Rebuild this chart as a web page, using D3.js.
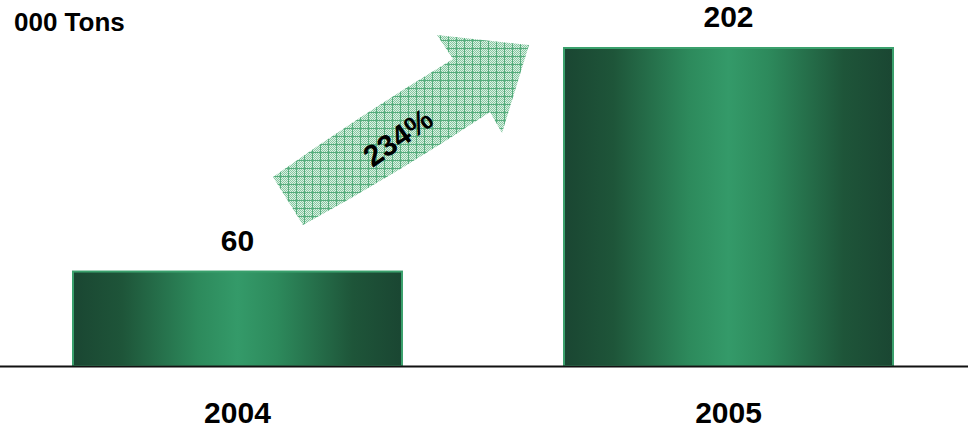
<!DOCTYPE html>
<html><head><meta charset="utf-8">
<script src="https://cdn.jsdelivr.net/npm/d3@7"></script>
<style>html,body{margin:0;padding:0;background:#fff;}svg{display:block;}</style>
</head><body>
<script>
const years = ["2004", "2005"];
const values = [60, 202];
const unitLabel = "000 Tons";
const growthLabel = "234%";

const W = 968, H = 430;
const svg = d3.select("body").append("svg").attr("width", W).attr("height", H)
  .style("font-family", "Arial, 'Liberation Sans', sans-serif");

const x = d3.scaleBand().domain(years).range([73, 893]).paddingInner(0.33).paddingOuter(0);
const y = d3.scaleLinear().domain([0, 202]).range([366, 48]);

const defs = svg.append("defs");
const grad = defs.append("linearGradient").attr("id", "barGrad").attr("x1", "0").attr("x2", "1").attr("y1", "0").attr("y2", "0");
[[0, "#1a4632"], [0.15, "#1e5539"], [0.38, "#2d8a5c"], [0.5, "#349a69"], [0.62, "#2d8a5c"], [0.85, "#1e5539"], [1, "#1a4632"]]
  .forEach(([o, c]) => grad.append("stop").attr("offset", o).attr("stop-color", c));

const pat = defs.append("pattern").attr("id", "hatch").attr("patternUnits", "userSpaceOnUse")
  .attr("width", 8).attr("height", 8);
pat.append("rect").attr("width", 8).attr("height", 8).attr("fill", "#dcf0e3");
for (let i = 0; i < 8; i++) for (let j = 0; j < 8; j++) {
  if ((i + j) % 2 === 0) pat.append("rect").attr("x", i).attr("y", j).attr("width", 1).attr("height", 1).attr("fill", "#85c7a1");
}
pat.append("rect").attr("x", 0).attr("y", 0).attr("width", 8).attr("height", 1).attr("fill", "#55ac7c");
pat.append("rect").attr("x", 0).attr("y", 0).attr("width", 1).attr("height", 8).attr("fill", "#55ac7c");

// bars
svg.selectAll("rect.bar").data(values).join("rect").attr("class", "bar")
  .attr("x", (d, i) => x(years[i]))
  .attr("y", d => y(d))
  .attr("width", x.bandwidth())
  .attr("height", d => y(0) - y(d))
  .attr("fill", "url(#barGrad)")
  .attr("stroke", "#3aa06c").attr("stroke-width", 2);

// baseline
svg.append("line").attr("x1", 0).attr("x2", W).attr("y1", y(0) + 0.5).attr("y2", y(0) + 0.5)
  .attr("stroke", "#111").attr("stroke-width", 2);

// value labels
svg.selectAll("text.val").data(values).join("text").attr("class", "val")
  .attr("x", (d, i) => x(years[i]) + x.bandwidth() / 2)
  .attr("y", d => y(d) - 21)
  .attr("text-anchor", "middle").attr("font-weight", "bold").attr("font-size", 30)
  .text(d => d);

// category labels
svg.selectAll("text.cat").data(years).join("text").attr("class", "cat")
  .attr("x", d => x(d) + x.bandwidth() / 2)
  .attr("y", 423)
  .attr("text-anchor", "middle").attr("font-weight", "bold").attr("font-size", 30)
  .text(d => d);

// unit
svg.append("text").attr("x", 14).attr("y", 31).attr("font-weight", "bold").attr("font-size", 26)
  .text(unitLabel);

// arrow
const arrowPath = "M273,177 Q362,114 453,59 L437,35 L529,45 L502,133 L490,112 Q400,172 303,225 Z";
svg.append("path").attr("d", arrowPath).attr("fill", "url(#hatch)");
svg.append("text").attr("transform", "translate(404,146) rotate(-35)")
  .attr("text-anchor", "middle").attr("font-weight", "bold").attr("font-size", 30)
  .text(growthLabel);
</script>
</body></html>
